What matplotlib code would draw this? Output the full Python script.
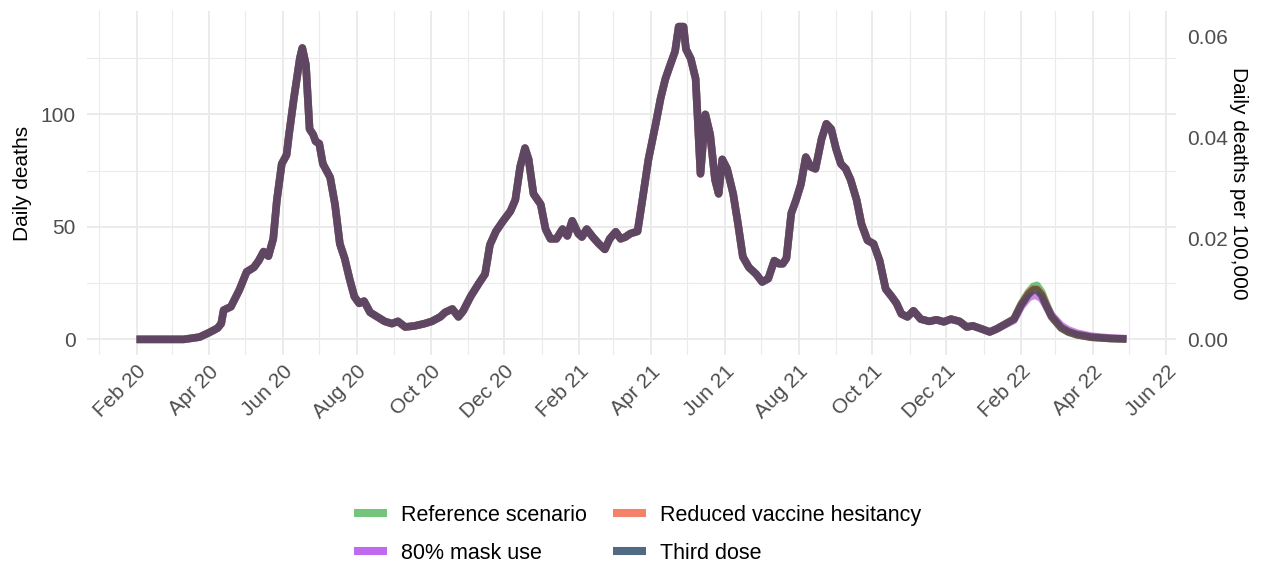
import matplotlib
matplotlib.use("Agg")
import matplotlib.pyplot as plt
import matplotlib.dates as mdates
from matplotlib.lines import Line2D
import pandas as pd

# Observed daily deaths (shared by every scenario up to late January 2022)
hist_dates = [
    "2020-02-01", "2020-03-11", "2020-03-24", "2020-04-01", "2020-04-08", "2020-04-11",
    "2020-04-13", "2020-04-19", "2020-04-26", "2020-05-02", "2020-05-08", "2020-05-12",
    "2020-05-16", "2020-05-20", "2020-05-24", "2020-05-27", "2020-05-31", "2020-06-04",
    "2020-06-06", "2020-06-10", "2020-06-15", "2020-06-17", "2020-06-20", "2020-06-23",
    "2020-06-26", "2020-06-28", "2020-07-01", "2020-07-04", "2020-07-10", "2020-07-14",
    "2020-07-18", "2020-07-22", "2020-07-26", "2020-07-30", "2020-08-03", "2020-08-07",
    "2020-08-12", "2020-08-18", "2020-08-24", "2020-08-30", "2020-09-04", "2020-09-10",
    "2020-09-18", "2020-09-26", "2020-10-02", "2020-10-09", "2020-10-13", "2020-10-19",
    "2020-10-24", "2020-10-28", "2020-11-03", "2020-11-10", "2020-11-15", "2020-11-19",
    "2020-11-24", "2020-11-30", "2020-12-06", "2020-12-10", "2020-12-14", "2020-12-18",
    "2020-12-21", "2020-12-25", "2020-12-31", "2021-01-04", "2021-01-08", "2021-01-13",
    "2021-01-18", "2021-01-22", "2021-01-26", "2021-01-31", "2021-02-03", "2021-02-07",
    "2021-02-12", "2021-02-17", "2021-02-22", "2021-02-26", "2021-03-03", "2021-03-07",
    "2021-03-11", "2021-03-15", "2021-03-21", "2021-03-25", "2021-03-30", "2021-04-05",
    "2021-04-09", "2021-04-13", "2021-04-17", "2021-04-21", "2021-04-24", "2021-04-28",
    "2021-04-30", "2021-05-04", "2021-05-08", "2021-05-12", "2021-05-16", "2021-05-20",
    "2021-05-24", "2021-05-27", "2021-05-30", "2021-06-03", "2021-06-08", "2021-06-12",
    "2021-06-16", "2021-06-21", "2021-06-27", "2021-07-02", "2021-07-07", "2021-07-12",
    "2021-07-16", "2021-07-19", "2021-07-22", "2021-07-26", "2021-07-30", "2021-08-03",
    "2021-08-07", "2021-08-11", "2021-08-15", "2021-08-20", "2021-08-24", "2021-08-28",
    "2021-09-01", "2021-09-05", "2021-09-09", "2021-09-13", "2021-09-18", "2021-09-22",
    "2021-09-27", "2021-10-02", "2021-10-07", "2021-10-12", "2021-10-17", "2021-10-21",
    "2021-10-25", "2021-10-30", "2021-11-04", "2021-11-10", "2021-11-17", "2021-11-23",
    "2021-11-29", "2021-12-05", "2021-12-12", "2021-12-18", "2021-12-23", "2021-12-30",
    "2022-01-06", "2022-01-12",
]
hist_deaths = [
    0, 0, 1, 3, 5, 7,
    13, 14.5, 22, 30, 32, 35,
    39, 37, 44.7, 62, 78, 82,
    91, 107, 125, 129.5, 122, 93.5,
    91, 88, 87, 78, 72, 60,
    42.5, 36, 27, 19, 16, 17,
    12, 10, 8, 7, 8, 5.5,
    6, 7, 8, 10, 12, 13.5,
    10, 12.7, 19, 25, 29, 42,
    48, 52.7, 57, 62, 76.7, 85,
    80, 64.7, 60, 49, 44.7, 44.7,
    49, 46, 52.7, 47, 45.5, 49,
    45.5, 42.5, 40, 44.7, 47.8, 44.7,
    45.5, 47, 48, 62, 80, 95.8,
    107, 115.8, 122, 128, 139, 139,
    129, 124.7, 115.8, 73.6, 100, 91,
    71, 64.7, 80, 75.8, 64.7, 51.3,
    36.7, 32, 29, 25.5, 27, 35,
    33.6, 33.6, 36, 56, 62, 69,
    81, 76.7, 75.8, 89, 95.8, 93.5,
    84.7, 78, 75.8, 71, 62, 51.3,
    44, 42.5, 35, 22.4, 19, 16,
    11.3, 10, 12.7, 9, 8, 8.7,
    7.8, 9, 8, 5.5, 6, 4.7,
    3.3, 4.7,
]

# Scenario projections from late January 2022
proj_dates = [
    "2022-01-20", "2022-01-26", "2022-02-01", "2022-02-07", "2022-02-11", "2022-02-14",
    "2022-02-18", "2022-02-22", "2022-02-26", "2022-03-06", "2022-03-12", "2022-03-19",
    "2022-03-31", "2022-04-16", "2022-04-29",
]
reference = [5.5, 9, 15.8, 21, 23.5, 24, 21, 15.5, 10.6, 5.4, 3.5, 2.2, 1.0, 0.4, 0.2]
reduced_hesitancy = [5.5, 9, 15.5, 20.5, 22.5, 22.5, 20, 15, 10.3, 5.2, 3.3, 2.1, 1.0, 0.4, 0.2]
mask_80 = [5.5, 8.5, 14.5, 18.5, 19.5, 19.5, 18, 14.5, 10.8, 6.2, 4.2, 2.8, 1.4, 0.6, 0.3]
third_dose = [5.5, 9, 15.3, 20, 22, 22, 19.5, 14.5, 10, 5, 3.2, 2, 0.9, 0.35, 0.15]

scenario_names = ["Reference scenario", "Reduced vaccine hesitancy", "80% mask use", "Third dose"]
scenario_values = [reference, reduced_hesitancy, mask_80, third_dose]
line_colors = ["#1f9e3a", "#f05a28", "#aa3cd2", "#283a3c"]
key_colors = ["#74c47c", "#f4826a", "#c06af0", "#4f6a82"]

population = 224_000_000  # for the per-100,000 rate on the right axis

plt.rcParams["font.family"] = ["Liberation Sans", "DejaVu Sans"]

fig = plt.figure(figsize=(12.63, 5.63), dpi=100)
ax = fig.add_axes([87 / 1263, 1 - 355 / 563, (1176 - 87) / 1263, (355 - 11) / 563])

h_dates = pd.to_datetime(hist_dates)
p_dates = pd.to_datetime(proj_dates)
for name, vals, col in zip(scenario_names, scenario_values, line_colors):
    x = h_dates.append(p_dates[1:])
    y = list(hist_deaths) + list(vals[1:])
    ax.plot(x, y, color=col, alpha=0.6, lw=5.5, solid_capstyle="butt",
            solid_joinstyle="round", label=name, zorder=3)

# ggplot-like 5% expansion on both axes
all_x = mdates.date2num(list(h_dates) + list(p_dates))
xmin, xmax = all_x.min(), all_x.max()
pad = 0.05 * (xmax - xmin)
ax.set_xlim(xmin - pad, xmax + pad)
ymax = max(max(hist_deaths), max(reference))
ax.set_ylim(-0.05 * ymax, ymax * 1.05)

ax.xaxis.set_major_locator(mdates.MonthLocator(bymonth=[2, 4, 6, 8, 10, 12]))
ax.xaxis.set_minor_locator(mdates.MonthLocator(bymonth=[1, 3, 5, 7, 9, 11]))
ax.xaxis.set_major_formatter(mdates.DateFormatter("%b %y"))
ax.set_yticks([0, 50, 100])
ax.set_yticks([25, 75, 125], minor=True)

for s in ax.spines.values():
    s.set_visible(False)
ax.grid(which="major", color="#ebebeb", lw=1.4)
ax.grid(which="minor", color="#ebebeb", lw=0.8)
ax.set_axisbelow(True)
ax.tick_params(which="both", length=0)
ax.tick_params(axis="y", labelsize=15, labelcolor="#4d4d4d", pad=8)
ax.tick_params(axis="x", labelsize=15, labelcolor="#4d4d4d", pad=5)
for lab in ax.get_xticklabels():
    lab.set_rotation(45)
    lab.set_ha("right")
    lab.set_va("top")
    lab.set_rotation_mode("anchor")

ax.set_ylabel("Daily deaths", fontsize=15, labelpad=6)

per100k = population / 1e5
sec = ax.secondary_yaxis("right", functions=(lambda v: v / per100k, lambda v: v * per100k))
sec.set_yticks([0, 0.02, 0.04, 0.06])
sec.set_yticklabels(["0.00", "0.02", "0.04", "0.06"])
sec.tick_params(length=0, labelsize=15, labelcolor="#4d4d4d", pad=8)
for s in sec.spines.values():
    s.set_visible(False)
sec.set_ylabel("Daily deaths per 100,000", fontsize=15, rotation=270, labelpad=14)

# legend filled row by row: Reference / Reduced, then Mask / Third dose
order = [0, 2, 1, 3]
handles = [Line2D([], [], color=key_colors[i], lw=5.8, solid_capstyle="butt") for i in order]
labels = [scenario_names[i] for i in order]
fig.legend(handles, labels, loc="center", bbox_to_anchor=(0.505, 0.051),
           ncol=2, frameon=False, fontsize=15.5, handlelength=1.55,
           handletextpad=0.65, columnspacing=1.2, labelspacing=0.78)

fig.savefig("out.png", dpi=100)
